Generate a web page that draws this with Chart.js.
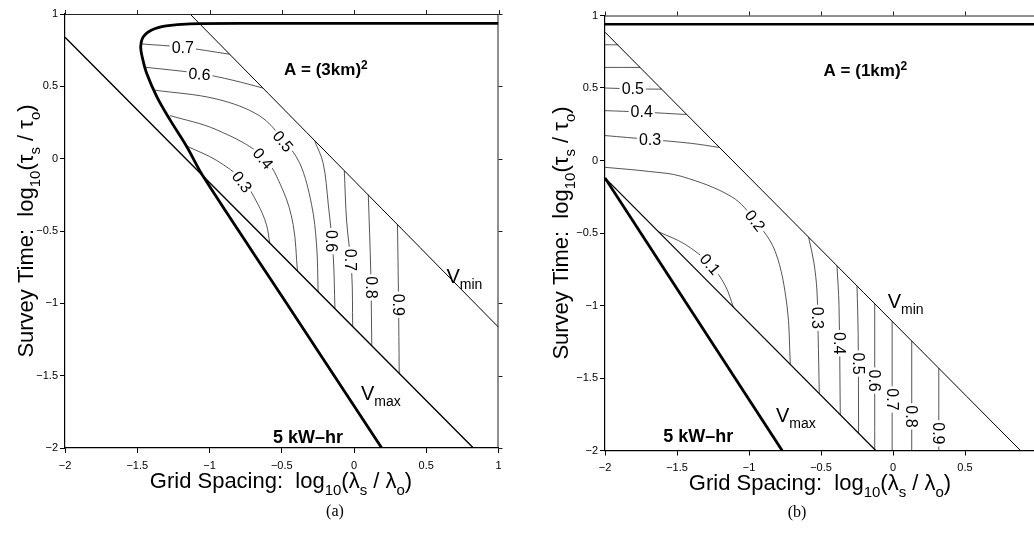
<!DOCTYPE html>
<html>
<head>
<meta charset="utf-8">
<script src="https://cdn.jsdelivr.net/npm/chart.js@4/dist/chart.umd.min.js"></script>
<style>
  html, body { margin: 0; padding: 0; background: #fff; }
  body { width: 1034px; height: 534px; position: relative; overflow: hidden; }
  .panel { position: absolute; top: 0; }
  #panelA { left: 0; }
  #panelB { left: 520px; }
</style>
</head>
<body>
<div class="panel" id="panelA"><canvas id="chartA" width="520" height="534"></canvas></div>
<div class="panel" id="panelB"><canvas id="chartB" width="540" height="534"></canvas></div>
<script>
// ---- axes ----
const xTicks = [-2, -1.5, -1, -0.5, 0, 0.5, 1];
const yTicks = [1, 0.5, 0, -0.5, -1, -1.5, -2];

// ---- panel (a): A = (3km)^2 ----
const vMinA = [[-1.135, 1], [1, -1.165]];
const vMaxA = [[-2, 0.84], [0.826, -2]];
const kwhA = [[1, 0.935], [-0.6, 0.935], [-1.135, 0.932], [-1.30, 0.918], [-1.40, 0.89], [-1.458, 0.843],
  [-1.476, 0.774], [-1.465, 0.70], [-1.435, 0.59], [-1.365, 0.429], [-1.273, 0.268], [-1.158, 0.084],
  [-1.043, -0.124], [-0.5, -0.949], [0.192, -2]];
const a07top = [[-1.47, 0.793], [-1.185, 0.77], [-0.861, 0.722]];
const a06top = [[-1.446, 0.632], [-1.069, 0.589], [-0.838, 0.542], [-0.63, 0.488]];
const a05 = [[-1.389, 0.475], [-0.954, 0.413], [-0.653, 0.296], [-0.491, 0.131], [-0.375, -0.033],
  [-0.294, -0.315], [-0.259, -0.596], [-0.248, -0.922]];
const a04 = [[-1.273, 0.298], [-0.954, 0.201], [-0.630, 0.014], [-0.491, -0.221], [-0.421, -0.456], [-0.391, -0.779]];
const a03 = [[-1.152, 0.084], [-0.954, -0.010], [-0.769, -0.151], [-0.665, -0.315], [-0.606, -0.456], [-0.583, -0.587]];
const a06 = [[-0.271, 0.121], [-0.213, -0.033], [-0.178, -0.315], [-0.144, -0.667], [-0.132, -1.038]];
const a07 = [[-0.067, -0.083], [-0.051, -0.432], [-0.016, -0.785], [-0.009, -1.161]];
const a08 = [[0.099, -0.249], [0.116, -0.785], [0.123, -1.293]];
const a09 = [[0.301, -0.451], [0.308, -0.972], [0.313, -1.483]];
const labelsA = [
  ['0.7', -1.185, 0.77, 0], ['0.6', -1.069, 0.585, 5], ['0.5', -0.491, 0.12, 50],
  ['0.4', -0.63, 0.0, 50], ['0.3', -0.775, -0.16, 52], ['0.6', -0.158, -0.57, 90],
  ['0.7', -0.025, -0.70, 90], ['0.8', 0.118, -0.89, 90], ['0.9', 0.308, -1.01, 90]
];

// ---- panel (b): A = (1km)^2 ----
const vMinB = [[-2, 0.885], [0.885, -2]];
const vMaxB = [[-2, -0.12], [-0.12, -2]];
const kwhB = [[-2, -0.12], [-0.77, -2]];
const capB = [[-2, 0.94], [1, 0.94]];
const b07 = [[-2, 0.798], [-1.908, 0.798]];
const b06 = [[-2, 0.642], [-1.757, 0.642]];
const b05 = [[-2, 0.50], [-1.8, 0.494], [-1.607, 0.492]];
const b04 = [[-2, 0.344], [-1.745, 0.334], [-1.432, 0.317]];
const b03 = [[-2, 0.172], [-1.687, 0.145], [-1.40, 0.118], [-1.205, 0.09]];
const b02 = [[-2, -0.047], [-1.7, -0.075], [-1.467, -0.11], [-1.119, -0.251], [-0.957, -0.415],
  [-0.818, -0.627], [-0.736, -1.002], [-0.713, -1.407]];
const b01 = [[-1.629, -0.491], [-1.444, -0.578], [-1.27, -0.715], [-1.166, -0.861], [-1.108, -1.012]];
const b03v = [[-0.586, -0.53], [-0.55, -0.7], [-0.528, -0.9], [-0.52, -1.2], [-0.512, -1.608]];
const b04v = [[-0.389, -0.726], [-0.375, -1.0], [-0.366, -1.754]];
const b05v = [[-0.25, -0.865], [-0.242, -1.2], [-0.239, -1.881]];
const b06v = [[-0.127, -0.988], [-0.127, -2]];
const b07v = [[-0.006, -1.109], [-0.006, -2]];
const b08v = [[0.13, -1.245], [0.13, -2]];
const b09v = [[0.318, -1.433], [0.318, -2]];
const labelsB = [
  ['0.5', -1.807, 0.497, 0], ['0.4', -1.745, 0.334, 0], ['0.3', -1.687, 0.145, 0],
  ['0.2', -0.957, -0.415, 52], ['0.1', -1.27, -0.715, 50], ['0.3', -0.526, -1.085, 90],
  ['0.4', -0.373, -1.26, 90], ['0.5', -0.241, -1.40, 90], ['0.6', -0.127, -1.518, 90],
  ['0.7', -0.006, -1.648, 90], ['0.8', 0.13, -1.765, 90], ['0.9', 0.318, -1.882, 90]
];

const SANS = '"Liberation Sans", Arial, Helvetica, sans-serif';
const fmt = v => (v < 0 ? '\u2212' : '') + Math.abs(v);

// text runs: [string, mode] with mode 0 normal, 1 subscript, 2 superscript
function runFont(mode, size, weight) {
  return `${weight} ${mode ? Math.round(size * 0.7) : size}px ${SANS}`;
}
function richWidth(ctx, parts, size, weight) {
  let w = 0;
  for (const [t, mode] of parts) {
    ctx.font = runFont(mode, size, weight);
    w += ctx.measureText(t).width;
  }
  return w;
}
function drawRich(ctx, parts, x, y, size, weight, align) {
  let cx = align === 'center' ? x - richWidth(ctx, parts, size, weight) / 2 : x;
  ctx.textAlign = 'left';
  ctx.textBaseline = 'alphabetic';
  for (const [t, mode] of parts) {
    ctx.font = runFont(mode, size, weight);
    const dy = mode === 1 ? size * 0.3 : mode === 2 ? -size * 0.38 : 0;
    ctx.fillText(t, cx, y + dy);
    cx += ctx.measureText(t).width;
  }
}

const xTitle = [['Grid Spacing:  log', 0], ['10', 1], ['(\u03bb', 0], ['s', 1], [' / \u03bb', 0], ['o', 1], [')', 0]];
const yTitle = [['Survey Time:  log', 0], ['10', 1], ['(\u03c4', 0], ['s', 1], [' / \u03c4', 0], ['o', 1], [')', 0]];

const line = (pts, w, color) => ({
  data: pts.map(([x, y]) => ({ x, y })),
  showLine: true, borderColor: color, borderWidth: w,
  pointRadius: 0, pointHoverRadius: 0, tension: 0.35, fill: false
});

function makePanel(id, cfg) {
  const decor = {
    id: 'decor',
    afterDatasetsDraw(chart) {
      const { ctx, chartArea: a, scales: { x, y } } = chart;
      ctx.save();
      // top and right frame with outward ticks
      ctx.strokeStyle = '#222';
      ctx.lineWidth = 1;
      ctx.beginPath();
      ctx.moveTo(a.left, a.top + 0.5); ctx.lineTo(a.right, a.top + 0.5);
      ctx.moveTo(a.right - 0.5, a.top); ctx.lineTo(a.right - 0.5, a.bottom);
      xTicks.forEach(v => { const p = Math.round(x.getPixelForValue(v)) + 0.5; ctx.moveTo(p, a.top); ctx.lineTo(p, a.top - 4); });
      yTicks.forEach(v => { const p = Math.round(y.getPixelForValue(v)) + 0.5; ctx.moveTo(a.right, p); ctx.lineTo(a.right + 4, p); });
      ctx.stroke();

      // contour values, breaking the line under them
      ctx.font = `16px ${SANS}`;
      ctx.textAlign = 'center';
      ctx.textBaseline = 'middle';
      cfg.labels.forEach(([t, vx, vy, rot]) => {
        const px = x.getPixelForValue(vx), py = y.getPixelForValue(vy);
        ctx.save();
        ctx.translate(px, py);
        ctx.rotate(rot * Math.PI / 180);
        const w = ctx.measureText(t).width;
        ctx.fillStyle = '#fff';
        ctx.fillRect(-w / 2 - 2, -5, w + 4, 10);
        ctx.fillStyle = '#000';
        ctx.fillText(t, 0, 1);
        ctx.restore();
      });

      // annotations
      ctx.fillStyle = '#000';
      cfg.notes.forEach(([parts, vx, vy, size, weight]) => {
        drawRich(ctx, parts, x.getPixelForValue(vx), y.getPixelForValue(vy), size, weight, 'left');
      });

      // axis titles
      drawRich(ctx, xTitle, cfg.xTitleAt[0], cfg.xTitleAt[1], 22, 'normal', 'center');
      ctx.save();
      ctx.translate(cfg.yTitleAt[0], cfg.yTitleAt[1]);
      ctx.rotate(-Math.PI / 2);
      drawRich(ctx, yTitle, 0, 0, 22, 'normal', 'center');
      ctx.restore();

      // panel caption
      ctx.font = `16px "Liberation Serif", "Times New Roman", serif`;
      ctx.textAlign = 'center';
      ctx.textBaseline = 'middle';
      ctx.fillText(cfg.caption, cfg.captionAt[0], cfg.captionAt[1]);
      ctx.restore();
    }
  };

  return new Chart(document.getElementById(id), {
    type: 'scatter',
    data: { datasets: cfg.datasets },
    options: {
      responsive: false,
      animation: false,
      events: [],
      layout: { padding: cfg.padding },
      plugins: { legend: { display: false }, tooltip: { enabled: false } },
      scales: {
        x: {
          type: 'linear', min: -2, max: 1,
          afterBuildTicks: s => { s.ticks = xTicks.map(v => ({ value: v })); },
          afterFit: s => { s.height = cfg.xHeight; },
          ticks: { callback: fmt, color: '#000', font: { family: SANS, size: 11 }, padding: 6, maxRotation: 0, autoSkip: false },
          grid: { drawOnChartArea: false, tickLength: 5, color: '#000' },
          border: { color: '#000', width: 1.2 }
        },
        y: {
          type: 'linear', min: -2, max: 1,
          afterBuildTicks: s => { s.ticks = yTicks.map(v => ({ value: v })); },
          afterFit: s => { s.width = cfg.yWidth; },
          ticks: { callback: fmt, color: '#000', font: { family: SANS, size: 11 }, padding: 2, autoSkip: false },
          grid: { drawOnChartArea: false, tickLength: 5, color: '#000' },
          border: { color: '#000', width: 1.2 }
        }
      }
    },
    plugins: [decor]
  });
}

const C = '#2a2a2a';
const vSub = (sub) => [['V', 0], [sub, 1]];

makePanel('chartA', {
  padding: { left: 0, top: 14, right: 21.5, bottom: 0 },
  yWidth: 65, xHeight: 86,
  datasets: [
    line(vMinA, 1, '#000'), line(vMaxA, 1.4, '#000'), line(kwhA, 2.8, '#000'),
    line(a07top, 0.8, C), line(a06top, 0.8, C), line(a05, 0.8, C), line(a04, 0.8, C), line(a03, 0.8, C),
    line(a06, 0.8, C), line(a07, 0.8, C), line(a08, 0.8, C), line(a09, 0.8, C)
  ],
  labels: labelsA,
  notes: [
    [[['A = (3km)', 0], ['2', 2]], -0.484, 0.577, 17, 'bold'],
    [vSub('min'), 0.64, -0.86, 20, 'normal'],
    [vSub('max'), 0.048, -1.665, 20, 'normal'],
    [[['5 kW\u2013hr', 0]], -0.56, -1.965, 18, 'bold']
  ],
  xTitleAt: [281, 488], yTitleAt: [33, 231],
  caption: '(a)', captionAt: [335, 512]
});

makePanel('chartB', {
  padding: { left: 0, top: 15.5, right: 23, bottom: 0 },
  yWidth: 85, xHeight: 83.5,
  datasets: [
    line(vMinB, 1, '#000'), line(vMaxB, 1.2, '#000'), line(kwhB, 2.8, '#000'), line(capB, 2.4, '#000'),
    line(b07, 0.8, C), line(b06, 0.8, C), line(b05, 0.8, C), line(b04, 0.8, C), line(b03, 0.8, C),
    line(b02, 0.8, C), line(b01, 0.8, C), line(b03v, 0.8, C), line(b04v, 0.8, C), line(b05v, 0.8, C),
    line(b06v, 0.8, C), line(b07v, 0.8, C), line(b08v, 0.8, C), line(b09v, 0.8, C)
  ],
  labels: labelsB,
  notes: [
    [[['A = (1km)', 0], ['2', 2]], -0.482, 0.582, 17, 'bold'],
    [vSub('min'), -0.037, -1.02, 20, 'normal'],
    [vSub('max'), -0.813, -1.80, 20, 'normal'],
    [[['5 kW\u2013hr', 0]], -1.595, -1.94, 18, 'bold']
  ],
  xTitleAt: [300, 490], yTitleAt: [48, 233],
  caption: '(b)', captionAt: [277, 513]
});
</script>
</body>
</html>
